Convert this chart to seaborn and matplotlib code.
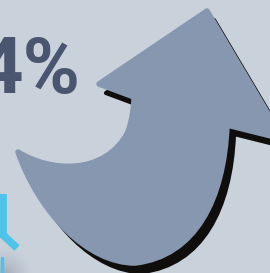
import numpy as np
import matplotlib
matplotlib.use("Agg")
import matplotlib.pyplot as plt
import seaborn as sns
import pandas as pd
from matplotlib.path import Path
from matplotlib.patches import PathPatch

# Colours
bg_color = "#c9d1db"
arrow_color = "#8797b0"
shadow_color = "#100e0c"
text_color = "#4a5570"
icon_color = "#4ec4ea"

# Headline text
label_text = "4%"

# Arrow outline (pixel space, y down): points and path codes
arrow_x = [18, 50, 105, 128, 132, 134, 134, 99, 207, 283, 227, 224, 195, 135, 88, 40, 18, 18]
arrow_y = [152, 172, 176, 132, 120, 108, 97, 84, 11, 139, 125, 200, 256, 263, 263, 214, 152, 152]
arrow_codes = [Path.MOVETO,
               Path.CURVE4, Path.CURVE4, Path.CURVE4,
               Path.CURVE4, Path.CURVE4, Path.CURVE4,
               Path.LINETO, Path.LINETO, Path.LINETO, Path.LINETO,
               Path.CURVE4, Path.CURVE4, Path.CURVE4,
               Path.CURVE4, Path.CURVE4, Path.CURVE4,
               Path.CLOSEPOLY]
shadow_dx, shadow_dy = 7, 9

# Cyan icon strokes at the bottom left
icon_x = [3, 3, 17]
icon_y = [194, 235, 248]
icon_step = [0, 1, 2]

sns.set_theme(style="white", rc={"axes.facecolor": bg_color, "figure.facecolor": bg_color})

fig = plt.figure(figsize=(2.70, 2.73), dpi=100)
ax = fig.add_axes([0, 0, 1, 1])
ax.set_xlim(0, 270)
ax.set_ylim(273, 0)
ax.axis("off")

# soft dark blob in the lower left corner
gx, gy = np.meshgrid(np.linspace(0, 40, 80), np.linspace(240, 273, 66))
r = np.hypot(gx - 5, (gy - 278) * 0.9)
alpha = np.clip(1 - r / 30, 0, 1) ** 1.5 * 0.45
rgba = np.zeros(gx.shape + (4,))
rgba[..., :3] = np.array([0x6a, 0x74, 0x88]) / 255
rgba[..., 3] = alpha
ax.imshow(rgba, extent=(0, 40, 273, 240), zorder=1, aspect="auto")

icon = pd.DataFrame({"x": icon_x, "y": icon_y, "step": icon_step})
sns.lineplot(data=icon, x="x", y="y", sort=False, estimator=None, ax=ax, color=icon_color,
             linewidth=5.5, solid_joinstyle="miter", solid_capstyle="butt", zorder=2)
ax.plot([1.5, 1.5], [258, 273], color=icon_color, linewidth=2.5, zorder=2)

verts = np.column_stack([arrow_x, arrow_y]).astype(float)
shadow_path = Path(verts + [shadow_dx, shadow_dy], arrow_codes)
arrow_path = Path(verts, arrow_codes)
ax.add_patch(PathPatch(shadow_path, facecolor=shadow_color, edgecolor=shadow_color,
                       linewidth=3, joinstyle="round", zorder=3))
ax.add_patch(PathPatch(arrow_path, facecolor=arrow_color, edgecolor=arrow_color,
                       linewidth=4, joinstyle="round", zorder=4))

ax.text(81, 93, label_text, ha="right", va="baseline", fontsize=56,
        fontweight="bold", family=["Roboto", "DejaVu Sans"], color=text_color, zorder=5)

fig.savefig("out.png", dpi=100, facecolor=bg_color)
